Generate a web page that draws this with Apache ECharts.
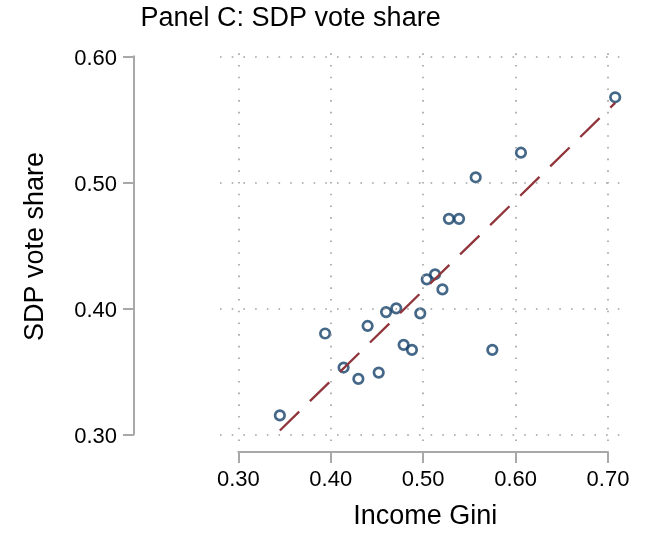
<!DOCTYPE html>
<html>
<head>
<meta charset="utf-8">
<script src="https://cdn.jsdelivr.net/npm/echarts@6/dist/echarts.min.js"></script>
<style>
  html, body { margin: 0; padding: 0; background: #ffffff; }
  #chart { width: 657px; height: 535px; }
</style>
</head>
<body>
<div id="chart"></div>
<script>
// Income inequality vs. SDP vote share
const giniX = [0.345, 0.394, 0.414, 0.430, 0.440, 0.452, 0.460, 0.471, 0.479, 0.488,
               0.497, 0.504, 0.513, 0.521, 0.528, 0.539, 0.557, 0.575, 0.606, 0.708];
const sdpY  = [0.315, 0.380, 0.353, 0.344, 0.386, 0.349, 0.397, 0.400, 0.371, 0.367,
               0.396, 0.423, 0.427, 0.415, 0.471, 0.471, 0.504, 0.367, 0.5235, 0.5675];

// Fitted line endpoints
const fitX = [0.345, 0.708];
const fitY = [0.303, 0.563];

// Tick values
const xTicks = [0.30, 0.40, 0.50, 0.60, 0.70];
const yTicks = [0.30, 0.40, 0.50, 0.60];

const FONT = '"Liberation Sans", Arial, Helvetica, sans-serif';
const AXIS_GRAY = '#a8a8a8';
const GRID_GRAY = '#a0a0a0';

const points = giniX.map((x, i) => [x, sdpY[i]]);
const fitLine = fitX.map((x, i) => [x, fitY[i]]);

const gridMarks = [
  ...xTicks.map(v => ({ xAxis: v })),
  ...yTicks.map(v => ({ yAxis: v }))
];

const hiddenAxis = {
  type: 'value', min: 0, max: 1,
  axisLine: { show: false }, axisTick: { show: false },
  axisLabel: { show: false }, splitLine: { show: false }
};

const chart = echarts.init(document.getElementById('chart'), null, { renderer: 'canvas' });

chart.setOption({
  animation: false,
  backgroundColor: '#ffffff',
  grid: [
    // plot region (with padding beyond the tick range)
    { left: 220, top: 46.5, width: 407, height: 394.5 },
    // detached x axis
    { left: 238.3, top: 451, width: 369.7, height: 1 },
    // detached y axis
    { left: 134, top: 56.3, width: 1, height: 378 }
  ],
  xAxis: [
    {
      gridIndex: 0, type: 'value', min: 0.2802, max: 0.7208,
      axisLine: { show: false }, axisTick: { show: false },
      axisLabel: { show: false }, splitLine: { show: false }
    },
    {
      gridIndex: 1, type: 'value', min: 0.3, max: 0.7, interval: 0.1,
      position: 'bottom',
      axisLine: { show: true, lineStyle: { color: AXIS_GRAY, width: 2 } },
      axisTick: { show: true, inside: false, length: 11, lineStyle: { color: AXIS_GRAY, width: 2 } },
      axisLabel: {
        show: true, margin: 17, color: '#000', fontSize: 22, fontFamily: FONT,
        formatter: v => v.toFixed(2)
      },
      splitLine: { show: false }
    },
    Object.assign({ gridIndex: 2 }, hiddenAxis)
  ],
  yAxis: [
    {
      gridIndex: 0, type: 'value', min: 0.2947, max: 0.6078,
      axisLine: { show: false }, axisTick: { show: false },
      axisLabel: { show: false }, splitLine: { show: false }
    },
    Object.assign({ gridIndex: 1 }, hiddenAxis),
    {
      gridIndex: 2, type: 'value', min: 0.3, max: 0.6, interval: 0.1,
      position: 'left',
      axisLine: { show: true, lineStyle: { color: AXIS_GRAY, width: 2 } },
      axisTick: { show: true, inside: false, length: 11, lineStyle: { color: AXIS_GRAY, width: 2 } },
      axisLabel: {
        show: true, margin: 17,
        formatter: v => '{t|' + v.toFixed(2) + '}',
        rich: {
          t: { color: '#000', fontSize: 22, fontFamily: FONT, padding: [6, 0, 0, 0] }
        }
      },
      splitLine: { show: false }
    }
  ],
  series: [
    {
      type: 'scatter',
      xAxisIndex: 0, yAxisIndex: 0,
      data: points,
      symbol: 'circle',
      symbolSize: 9.5,
      itemStyle: { color: 'rgba(0,0,0,0)', borderColor: '#17426b', borderWidth: 2.7 },
      z: 3,
      markLine: {
        silent: true,
        symbol: ['none', 'none'],
        label: { show: false },
        lineStyle: { color: GRID_GRAY, width: 1.6, type: [1.6, 10.1] },
        data: gridMarks
      }
    },
    {
      type: 'line',
      xAxisIndex: 0, yAxisIndex: 0,
      data: fitLine,
      symbol: 'none',
      lineStyle: { color: '#90353b', width: 2.3, type: [27, 15], cap: 'butt' },
      z: 4
    }
  ],
  graphic: [
    {
      type: 'text', x: 140.5, y: 18.5,
      style: {
        text: 'Panel C: SDP vote share', fill: '#000',
        font: '27px ' + FONT, textAlign: 'left', textVerticalAlign: 'middle'
      }
    },
    {
      type: 'text', x: 425.3, y: 516.5,
      style: {
        text: 'Income Gini', fill: '#000',
        font: '27px ' + FONT, textAlign: 'center', textVerticalAlign: 'middle'
      }
    },
    {
      type: 'text', x: 36, y: 246.5, rotation: Math.PI / 2,
      style: {
        text: 'SDP vote share', fill: '#000',
        font: '27px ' + FONT, textAlign: 'center', textVerticalAlign: 'middle'
      }
    }
  ]
});
</script>
</body>
</html>
